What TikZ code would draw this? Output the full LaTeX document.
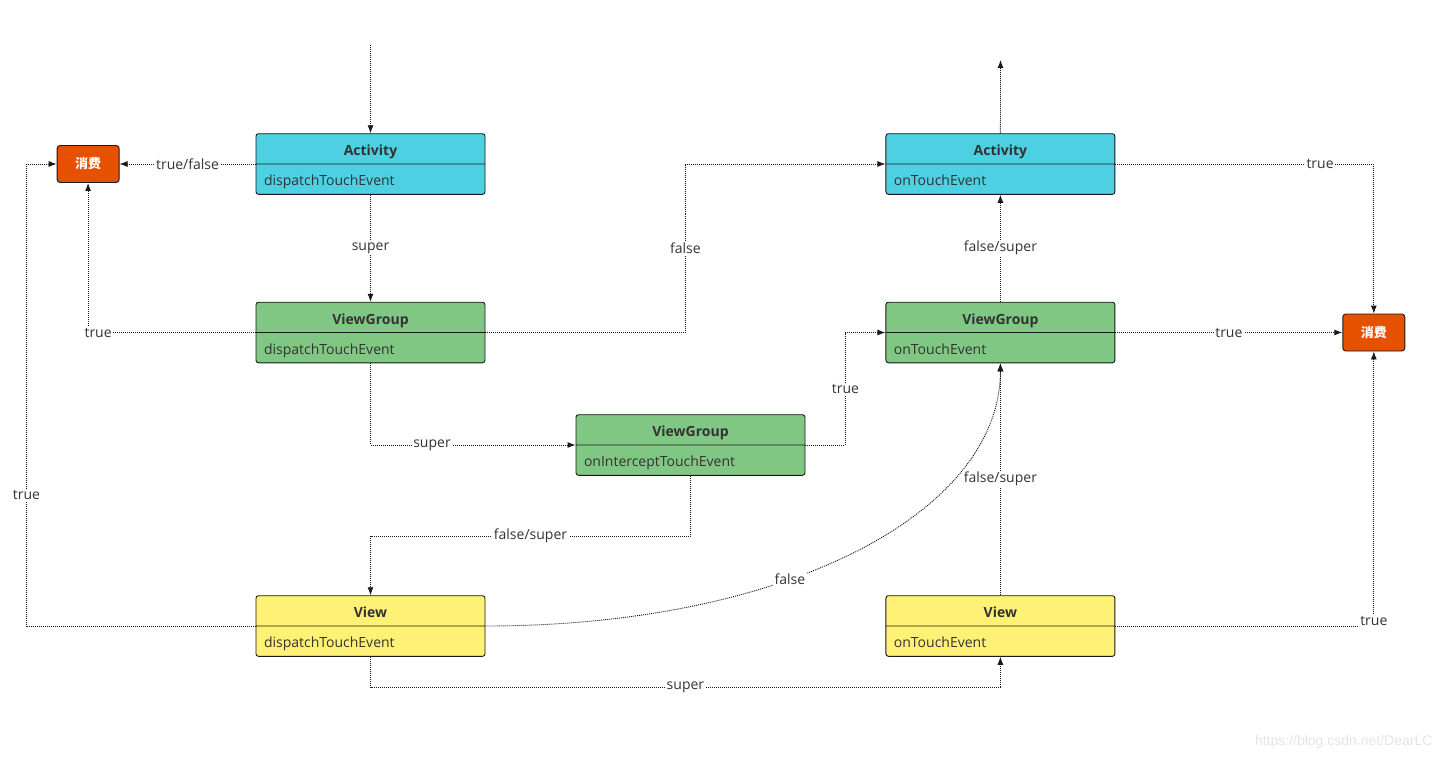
\documentclass[tikz,border=0pt]{standalone}
\usepackage{fontspec}
\setmainfont{Open Sans}
\newfontfamily\cjkfont{Noto Sans CJK SC}
\newfontfamily\markfont{Liberation Sans}
\usepackage{tikz}
\usetikzlibrary{shapes.multipart, arrows.meta, positioning, calc}
\definecolor{mydark}{RGB}{25,25,25}
\definecolor{mytext}{RGB}{51,51,51}
\definecolor{mycyan}{RGB}{77,208,225}
\definecolor{mygreen}{RGB}{129,199,132}
\definecolor{myyellow}{RGB}{255,241,118}
\definecolor{myorange}{RGB}{230,81,0}
\definecolor{mymark}{RGB}{228,228,228}
\newcommand{\partstrut}{\rule[-8pt]{0pt}{29.4pt}}
\newcommand{\classtitle}[1]{\partstrut\textbf{#1}}
\newcommand{\classmethod}[1]{\makebox[213pt][l]{\partstrut #1}}
\tikzset{
  classbox/.style={rectangle split, rectangle split parts=2, draw=mydark,
    line width=0.9pt, rounded corners=2.5pt, text width=213pt,
    inner xsep=8pt, inner ysep=0pt, align=center, text=mytext,
    font=\fontsize{14}{16}\selectfont},
  consume/.style={rectangle, draw=mydark, fill=myorange, text=white,
    minimum width=62pt, minimum height=37pt, rounded corners=3pt,
    line width=0.9pt, font=\cjkfont\bfseries\fontsize{13}{15}\selectfont},
  flow/.style={-{Latex[length=8pt,width=6pt]}, line width=0.9pt,
    dash pattern=on 1pt off 1pt, draw=mydark},
  lbl/.style={fill=white, inner sep=1.5pt, text=mytext,
    font=\fontsize{14}{16}\selectfont}
}

\begin{document}
\begin{tikzpicture}[x=1pt, y=-1pt]
  \useasboundingbox (0,0) rectangle (1444,760);
  % dispatch side
  \node[classbox, fill=mycyan] (actD) at (370.5,164)
    {\classtitle{Activity}\nodepart{two}\classmethod{dispatchTouchEvent}};
  \node[classbox, fill=mygreen, below=107pt of actD] (vgD)
    {\classtitle{ViewGroup}\nodepart{two}\classmethod{dispatchTouchEvent}};
  \node[classbox, fill=mygreen] (vgI) at (690.5,445)
    {\classtitle{ViewGroup}\nodepart{two}\classmethod{onInterceptTouchEvent}};
  \node[classbox, fill=myyellow, below=232pt of vgD] (vD)
    {\classtitle{View}\nodepart{two}\classmethod{dispatchTouchEvent}};
  % touch side
  \node[classbox, fill=mycyan, right=400pt of actD] (actO)
    {\classtitle{Activity}\nodepart{two}\classmethod{onTouchEvent}};
  \node[classbox, fill=mygreen, right=400pt of vgD] (vgO)
    {\classtitle{ViewGroup}\nodepart{two}\classmethod{onTouchEvent}};
  \node[classbox, fill=myyellow, right=400pt of vD] (vO)
    {\classtitle{View}\nodepart{two}\classmethod{onTouchEvent}};
  % consumed
  \node[consume, left=136pt of actD] (consumeL) {消费};
  \node[consume, right=227pt of vgO] (consumeR) {消费};
  \coordinate (entry) at (370.5,45);
  \coordinate (exit) at (1000.5,60);
  % connections
  \draw[flow] (entry) -- (actD);
  \draw[flow] (actD.text split west) -- node[lbl]{true/false} (consumeL);
  \draw[flow] (actD) -- node[lbl]{super} (vgD);
  \draw[flow] (vgD.text split west) -| node[lbl, pos=0.47]{true} (consumeL);
  \draw[flow] (vgD.text split east) -- ++(200,0) |- node[lbl, pos=0.25]{false} (actO.text split west);
  \draw[flow] (vgD) |- node[lbl, pos=0.65]{super} (vgI);
  \draw[flow] (vgI.text split east) -- ++(40,0) |- node[lbl, pos=0.25]{true} (vgO.text split west);
  \draw[flow] (vgI) -- ++(0,91) -| node[lbl, pos=0.25]{false/super} (vD);
  \draw[flow] (vD.text split west) -- ++(-229,0) |- node[lbl, pos=0.142]{true} (consumeL.west);
  \draw[flow] (vD.text split east) .. controls ++(300,0) and ++(0,150) .. node[lbl, pos=0.39]{false} (vgO.south);
  \draw[flow] (vD) -- ++(0,61) -| node[lbl, pos=0.25]{super} (vO);
  \draw[flow] (vO) -- node[lbl]{false/super} (vgO);
  \draw[flow] (vgO) -- node[lbl]{false/super} (actO);
  \draw[flow] (actO) -- (exit);
  \draw[flow] (actO.text split east) -| node[lbl, pos=0.396]{true} (consumeR);
  \draw[flow] (vgO.text split east) -- node[lbl]{true} (consumeR);
  \draw[flow] (vO.text split east) -| node[lbl, pos=0.51]{true} (consumeR);
  % watermark
  \node[anchor=east, text=mymark, font=\markfont\fontsize{14}{16}\selectfont] (mark) at (1436,742) {https://blog.csdn.net/DearLC};
\end{tikzpicture}
\end{document}
